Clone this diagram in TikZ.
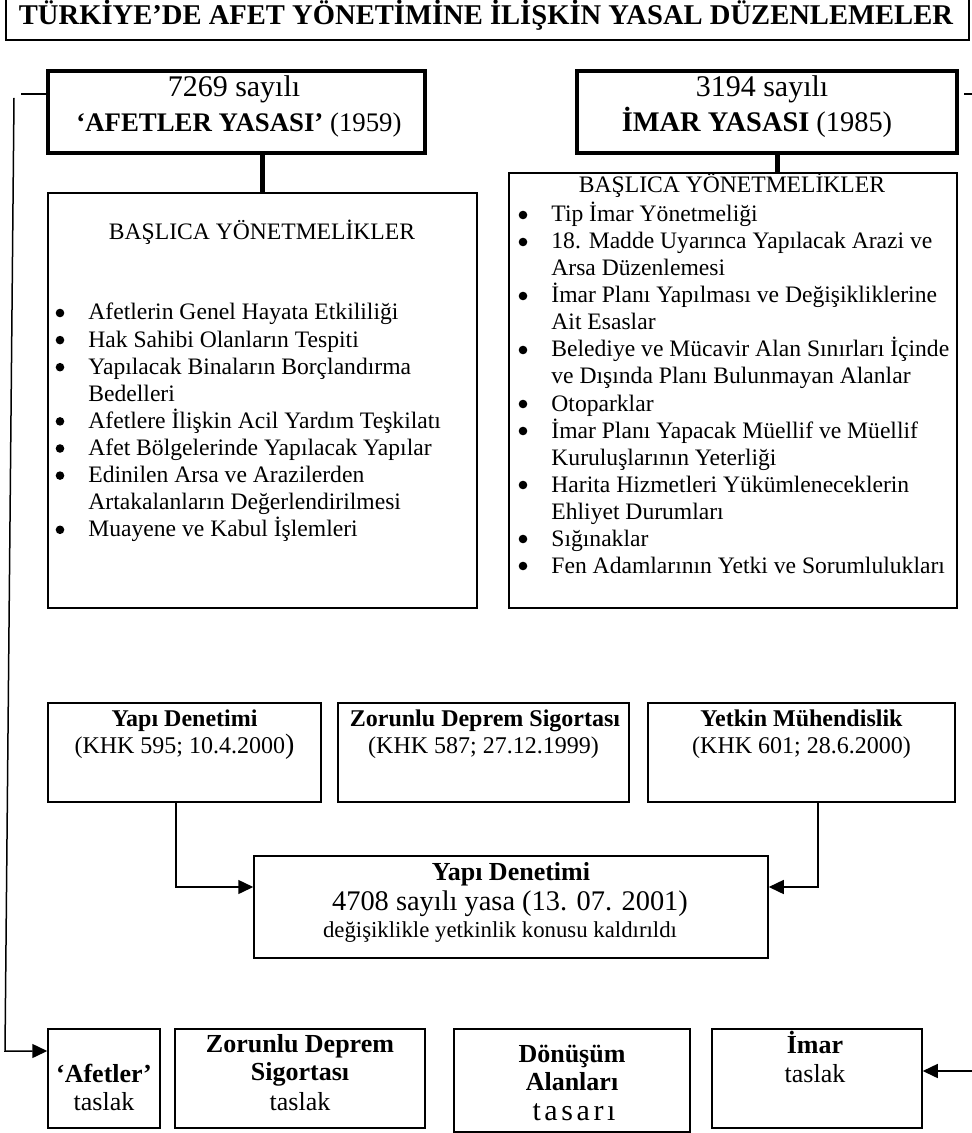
\documentclass[tikz,border=0pt]{standalone}
\usepackage{fontspec}
\setmainfont{Liberation Serif}
\usetikzlibrary{fit,arrows.meta}

\begin{document}
\begin{tikzpicture}[x=0.5pt,y=-0.5pt,
  box/.style={draw, line width=0.75pt, inner sep=0pt},
  heavybox/.style={draw, line width=2pt, inner sep=0pt},
  titlebox/.style={draw, line width=1pt, inner sep=0pt},
  txt/.style={anchor=base, inner sep=0pt},
  item/.style={anchor=base west, inner sep=0pt, font=\fontsize{11.8}{14}\selectfont},
  stem/.style={line width=2.5pt},
  link/.style={line width=0.75pt},
  arr/.style={line width=0.75pt, -{Triangle[length=7.5pt,width=7pt]}},
]
\useasboundingbox (0,0) rectangle (972,1133);

% heading
\node[titlebox, fit={(6,-10) (969,40)}] (head) {};
\node[txt, font=\bfseries\fontsize{14.3}{16}\selectfont] (headtxt) at (486,25)
  {TÜRKİYE’DE AFET YÖNETİMİNE İLİŞKİN YASAL DÜZENLEMELER};

% the two laws
\node[heavybox, fit={(48,71) (425,153)}] (a7269) {};
\node[txt, font=\fontsize{15}{16}\selectfont] (a7269l1) at (234,97) {7269 sayılı};
\node[txt, font=\fontsize{13.4}{16}\selectfont] (a7269l2) at (239,132) {\textbf{‘AFETLER YASASI’} (1959)};

\node[heavybox, fit={(577,71) (957,153)}] (i3194) {};
\node[txt, font=\fontsize{15}{16}\selectfont] (i3194l1) at (762,97) {3194 sayılı};
\node[txt, font=\fontsize{14.2}{16}\selectfont] (i3194l2) at (757,132) {\textbf{İMAR YASASI} (1985)};

% regulation lists
\node[box, fit={(48,193) (477,608)}] (lbox) {};
\node[txt, font=\fontsize{11.8}{14}\selectfont] (lhead) at (262,240) {BAŞLICA YÖNETMELİKLER};
\foreach \b/\t [count=\i from 0] in {
  1/Afetlerin Genel Hayata Etkililiği,
  1/Hak Sahibi Olanların Tespiti,
  1/Yapılacak Binaların Borçlandırma,
  0/Bedelleri,
  1/Afetlere İlişkin Acil Yardım Teşkilatı,
  1/Afet Bölgelerinde Yapılacak Yapılar,
  1/Edinilen Arsa ve Arazilerden,
  0/Artakalanların Değerlendirilmesi,
  1/Muayene ve Kabul İşlemleri}{
  \node[item] (la\i) at (88,{320+27.1*\i}) {\t};
  \ifnum\b=1 \fill (60,{313+27.1*\i}) circle (4.3); \fi
}

\node[box, fit={(509,173) (957,608)}] (rbox) {};
\node[txt, font=\fontsize{11.8}{14}\selectfont] (rhead) at (732,193) {BAŞLICA YÖNETMELİKLER};
\foreach \b/\t [count=\i from 0] in {
  1/Tip İmar Yönetmeliği,
  1/18. Madde Uyarınca Yapılacak Arazi ve,
  0/Arsa Düzenlemesi,
  1/İmar Planı Yapılması ve Değişikliklerine,
  0/Ait Esaslar,
  1/Belediye ve Mücavir Alan Sınırları İçinde,
  0/ve Dışında Planı Bulunmayan Alanlar,
  1/Otoparklar,
  1/İmar Planı Yapacak Müellif ve Müellif,
  0/Kuruluşlarının Yeterliği,
  1/Harita Hizmetleri Yükümleneceklerin,
  0/Ehliyet Durumları,
  1/Sığınaklar,
  1/Fen Adamlarının Yetki ve Sorumlulukları}{
  \node[item] (ra\i) at (551,{222+27*\i}) {\t};
  \ifnum\b=1 \fill (523,{215+27*\i}) circle (4.3); \fi
}

% decrees
\node[box, fit={(48,703) (321,802)}] (m1) {};
\node[txt, font=\bfseries\fontsize{12}{14}\selectfont] (m1a) at (184.5,726) {Yapı Denetimi};
\node[txt, font=\fontsize{12}{14}\selectfont] (m1b) at (184.5,753) {(KHK 595; 10.4.2000{\fontsize{14}{14}\selectfont)}};

\node[box, fit={(338,703) (629,802)}] (m2) {};
\node[txt, font=\bfseries\fontsize{12}{14}\selectfont] (m2a) at (485,726) {Zorunlu Deprem Sigortası};
\node[txt, font=\fontsize{12}{14}\selectfont] (m2b) at (483.5,753) {(KHK 587; 27.12.1999)};

\node[box, fit={(648,703) (955,802)}] (m3) {};
\node[txt, font=\bfseries\fontsize{12}{14}\selectfont] (m3a) at (801.5,726) {Yetkin Mühendislik};
\node[txt, font=\fontsize{12}{14}\selectfont] (m3b) at (801.5,753) {(KHK 601; 28.6.2000)};

% resulting law
\node[box, fit={(254,856) (768,958)}] (c) {};
\node[txt, font=\bfseries\fontsize{13}{14}\selectfont] (ca) at (511,880) {Yapı Denetimi};
\node[txt, font=\fontsize{14.2}{16}\selectfont] (cb) at (510,910) {4708 sayılı yasa (13. 07. 2001)};
\node[txt, font=\fontsize{11.4}{14}\selectfont] (cc) at (500,937) {değişiklikle yetkinlik konusu kaldırıldı};

% drafts
\node[box, fit={(48,1029) (160,1128)}] (afet) {};
\node[txt, font=\bfseries\fontsize{13}{14}\selectfont] (afeta) at (104,1082) {‘Afetler’};
\node[txt, font=\fontsize{13}{14}\selectfont] (afetb) at (104,1110) {taslak};

\node[box, fit={(175,1029) (425,1128)}] (zds) {};
\node[txt, font=\bfseries\fontsize{13}{14}\selectfont] (zdsa) at (300,1052) {Zorunlu Deprem};
\node[txt, font=\bfseries\fontsize{13}{14}\selectfont] (zdsb) at (300,1080) {Sigortası};
\node[txt, font=\fontsize{13}{14}\selectfont] (zdsc) at (300,1110) {taslak};

\node[box, fit={(454,1029) (690,1132)}] (don) {};
\node[txt, font=\bfseries\fontsize{13}{14}\selectfont] (dona) at (572,1062) {Dönüşüm};
\node[txt, font=\bfseries\fontsize{13}{14}\selectfont] (donb) at (572,1090) {Alanları};
\node[txt, font=\fontsize{15}{16}\selectfont\addfontfeature{LetterSpace=12}] (donc) at (574,1120) {tasarı};

\node[box, fit={(712,1029) (922,1128)}] (imar) {};
\node[txt, font=\bfseries\fontsize{13}{14}\selectfont] (imara) at (815,1053) {İmar};
\node[txt, font=\fontsize{13}{14}\selectfont] (imarb) at (815,1082) {taslak};

% stems from the laws to their regulations
\draw[stem] (lbox.north) -- (lbox.north |- a7269.south);
\coordinate (rsx) at (777,0);
\draw[stem] (rbox.north -| rsx) -- (i3194.south -| rsx);

% decrees merged into the law
\coordinate (k1) at (176,887);
\draw[arr] (m1.south -| k1) -- (k1) -- (c.west |- k1);
\coordinate (k3) at (818,887);
\draw[arr] (m3.south -| k3) -- (k3) -- (c.east |- k3);

% laws leading to their drafts
\coordinate (ls) at (21,94);
\draw[link] (a7269.west |- ls) -- (ls);
\coordinate (lt) at (14,98);
\coordinate (lb) at (5,1051);
\draw[arr] (lt) -- (lb) -- (afet.west |- lb);

\coordinate (rs) at (964,94);
\coordinate (rt) at (990,94);
\coordinate (rb) at (990,1071);
\draw[arr] (rs) -- (rt) -- (rb) -- (imar.east |- rb);
\end{tikzpicture}
\end{document}
